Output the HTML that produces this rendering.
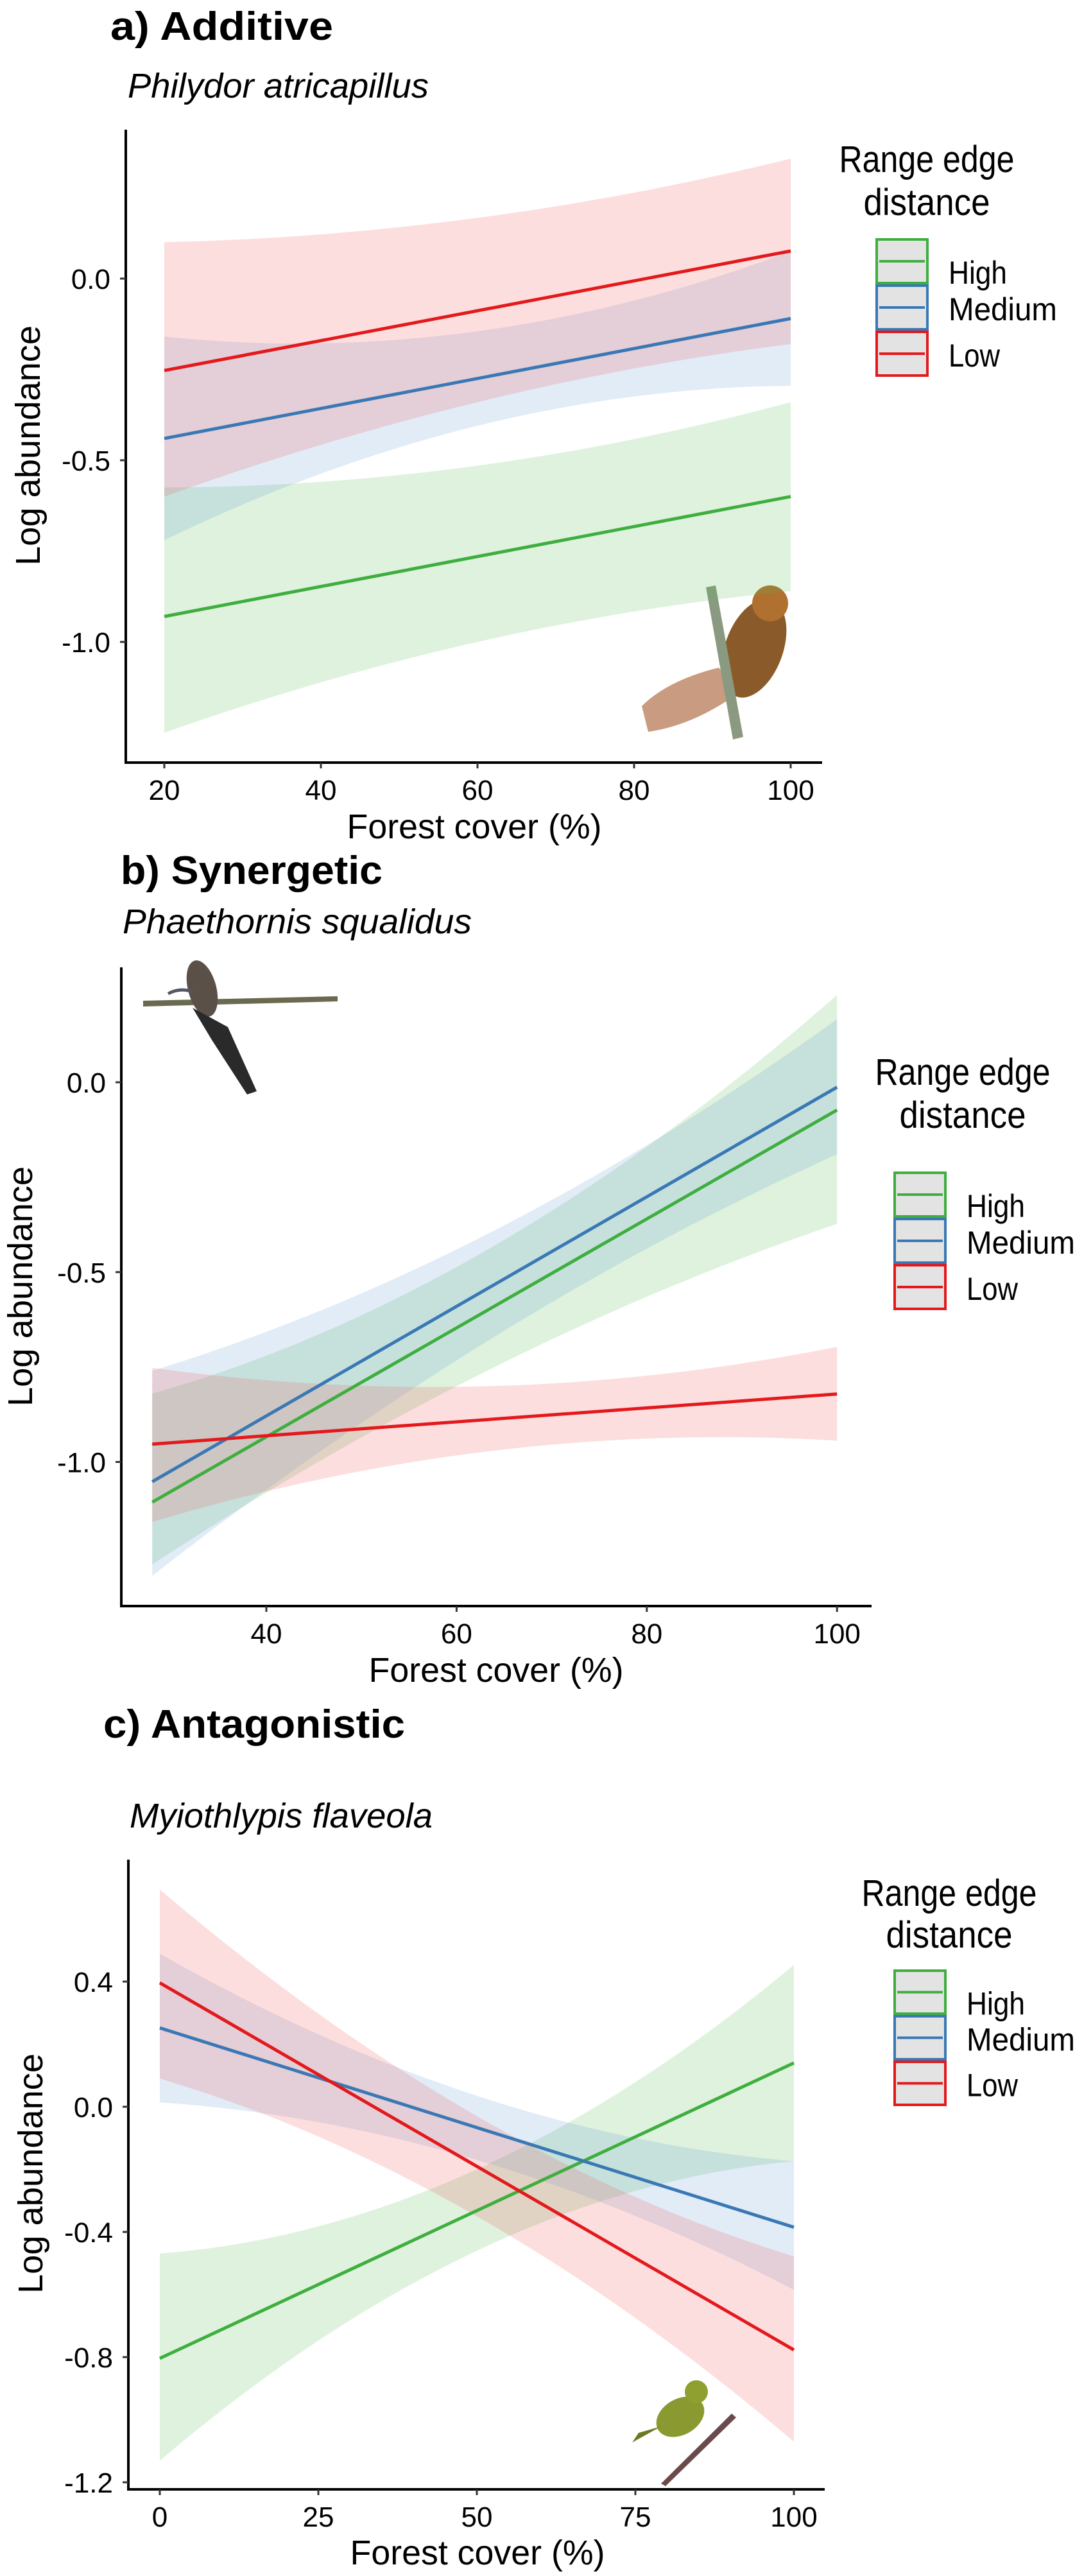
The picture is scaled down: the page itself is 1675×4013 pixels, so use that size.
<!DOCTYPE html>
<html><head><meta charset="utf-8"><style>
html,body{margin:0;padding:0;background:#fff;}
svg{display:block;}
text{font-family:"Liberation Sans",sans-serif;fill:#000;}
</style></head><body>
<svg id="fig" width="1675" height="4013" viewBox="0 0 1675 4013" xmlns="http://www.w3.org/2000/svg">
<g>
  <path d="M1000,1100 Q1040,1060 1120,1040 L1150,1080 Q1080,1130 1010,1140 Z" fill="#c08a6a" opacity="0.85"/>
  <ellipse cx="1175" cy="1010" rx="45" ry="80" fill="#8a5a2a" transform="rotate(20 1175 1010)"/>
  <circle cx="1200" cy="940" r="28" fill="#b07030"/>
  <path d="M1100,915 L1115,912 L1158,1148 L1142,1152 Z" fill="#8a9a80"/>
</g>
<g>
  <path d="M223,1559 L526,1552 L526,1560 L223,1568 Z" fill="#6a6a50"/>
  <ellipse cx="315" cy="1540" rx="22" ry="45" fill="#5a5048" transform="rotate(-15 315 1540)"/>
  <path d="M300,1570 L355,1600 L400,1700 L385,1705 L330,1620 Z" fill="#2a2a2a"/>
  <path d="M262,1548 Q280,1538 300,1545" stroke="#556" stroke-width="5" fill="none"/>
</g>
<g>
  <path d="M1030,3869 L1140,3760 L1147,3766 L1037,3873 Z" fill="#6a4a4a"/>
  <ellipse cx="1060" cy="3765" rx="40" ry="28" fill="#8a9a30" transform="rotate(-30 1060 3765)"/>
  <circle cx="1085" cy="3726" r="18" fill="#90a030"/>
  <path d="M1030,3780 L985,3805 L995,3790 Z" fill="#6a7a20"/>
</g>
</svg>
<script>
// ---------- Panel A data (Philydor atricapillus) ----------
const aX = [20, 60, 100];
const aHigh = [-0.93, -0.765, -0.60];
const aHighLo = [-1.25, -1.00, -0.86];
const aHighHi = [-0.575, -0.515, -0.34];
const aMed = [-0.44, -0.275, -0.11];
const aMedLo = [-0.72, -0.405, -0.295];
const aMedHi = [-0.16, -0.145, 0.075];
const aLow = [-0.253, -0.088, 0.076];
const aLowLo = [-0.60, -0.34, -0.18];
const aLowHi = [0.10, 0.167, 0.33];
const aXTicks = [20, 40, 60, 80, 100];
const aYTicks = [0.0, -0.5, -1.0];
const aYLabels = ["0.0", "-0.5", "-1.0"];
// ---------- Panel B data (Phaethornis squalidus) ----------
const bX = [28, 64, 100];
const bHigh = [-1.106, -0.59, -0.073];
const bHighLo = [-1.27, -0.75, -0.373];
const bHighHi = [-0.82, -0.43, 0.23];
const bMed = [-1.052, -0.53, -0.013];
const bMedLo = [-1.30, -0.67, -0.19];
const bMedHi = [-0.76, -0.39, 0.166];
const bLow = [-0.953, -0.887, -0.821];
const bLowLo = [-1.158, -0.97, -0.944];
const bLowHi = [-0.752, -0.80, -0.697];
const bXTicks = [40, 60, 80, 100];
const bYTicks = [0.0, -0.5, -1.0];
const bYLabels = ["0.0", "-0.5", "-1.0"];
// ---------- Panel C data (Myiothlypis flaveola) ----------
const cX = [0, 50, 100];
const cHigh = [-0.804, -0.33, 0.14];
const cHighLo = [-1.131, -0.46, -0.174];
const cHighHi = [-0.469, -0.20, 0.453];
const cMed = [0.252, -0.067, -0.385];
const cMedLo = [0.014, -0.17, -0.585];
const cMedHi = [0.489, 0.035, -0.174];
const cLow = [0.396, -0.19, -0.777];
const cLowLo = [0.09, -0.35, -1.07];
const cLowHi = [0.694, -0.03, -0.478];
const cXTicks = [0, 25, 50, 75, 100];
const cYTicks = [0.4, 0.0, -0.4, -0.8, -1.2];
const cYLabels = ["0.4", "0.0", "-0.4", "-0.8", "-1.2"];

const NS = "http://www.w3.org/2000/svg";
const svg = document.getElementById("fig");
const COL = {high:"#3fae3f", med:"#3a78b5", low:"#e3191c"};
const FILL = {high:"#5cc05c", med:"#6aa0d8", low:"#f05a5a"};

function mk(tag, attrs, parent){
  const e = document.createElementNS(NS, tag);
  for (const k in attrs) e.setAttribute(k, attrs[k]);
  (parent||svg).appendChild(e);
  return e;
}
function txt(str, attrs, parent){
  const e = mk("text", attrs, parent);
  e.textContent = str;
  return e;
}
function curve(xs, ys, sx, sy){
  const p0=[sx(xs[0]),sy(ys[0])], p1=[sx(xs[1]),sy(ys[1])], p2=[sx(xs[2]),sy(ys[2])];
  const c=[2*p1[0]-(p0[0]+p2[0])/2, 2*p1[1]-(p0[1]+p2[1])/2];
  return {p0,c,p2};
}
function band(xs, lo, hi, sx, sy, color, g, name){
  const L=curve(xs,lo,sx,sy), H=curve(xs,hi,sx,sy);
  const d=`M${L.p0[0]},${L.p0[1]} Q${L.c[0]},${L.c[1]} ${L.p2[0]},${L.p2[1]} L${H.p2[0]},${H.p2[1]} Q${H.c[0]},${H.c[1]} ${H.p0[0]},${H.p0[1]} Z`;
  const p = mk("path",{d:d, fill:color, "fill-opacity":0.2}, g);
  
  
}
function line(xs, ys, sx, sy, color, g, name){
  const l = mk("line",{x1:sx(xs[0]),y1:sy(ys[0]),x2:sx(xs[2]),y2:sy(ys[2]),stroke:color,"stroke-width":5}, g);
  
  
}

function panel(P){
  const g = mk("g",{});
  
  
  const sx = v => P.x0 + (v - P.xv0) * P.kx;
  const sy = v => P.y0 - v * P.ky;
  const t = txt(P.title,{x:P.titleX,y:P.titleY,"font-size":62,"font-weight":"bold",textLength:P.titleW,lengthAdjust:"spacingAndGlyphs"},g);
  
  
  const s = txt(P.sub,{x:P.subX,y:P.subY,"font-size":54,"font-style":"italic",textLength:P.subW,lengthAdjust:"spacingAndGlyphs"},g);
  
  
  band(P.xs,P.highLo,P.highHi,sx,sy,FILL.high,g,'band-high');
  band(P.xs,P.medLo,P.medHi,sx,sy,FILL.med,g,'band-medium');
  band(P.xs,P.lowLo,P.lowHi,sx,sy,FILL.low,g,'band-low');
  line(P.xs,P.high,sx,sy,COL.high,g,'line-high');
  line(P.xs,P.med,sx,sy,COL.med,g,'line-medium');
  line(P.xs,P.low,sx,sy,COL.low,g,'line-low');
  const ya = mk("line",{x1:P.axX,y1:P.axTop,x2:P.axX,y2:P.axBot+2,stroke:"#000","stroke-width":4},g);
  
  
  const xa = mk("line",{x1:P.axX-2,y1:P.axBot,x2:P.axRight,y2:P.axBot,stroke:"#000","stroke-width":4},g);
  
  
  P.xTicks.forEach(v=>{
    const tk = mk("line",{x1:sx(v),y1:P.axBot,x2:sx(v),y2:P.axBot+9,stroke:"#333","stroke-width":3},g);
    
    
    const tl = txt(String(v),{x:sx(v),y:P.axBot+58,"font-size":44,"text-anchor":"middle",fill:"#222"},g);
    
    
  });
  P.yTicks.forEach((v,i)=>{
    const tk = mk("line",{x1:P.axX-9,y1:sy(v),x2:P.axX,y2:sy(v),stroke:"#333","stroke-width":3},g);
    
    
    const tl = txt(P.yLabels[i],{x:P.axX-24,y:sy(v)+16,"font-size":44,"text-anchor":"end",fill:"#222"},g);
    
    
  });
  const xt = txt("Forest cover (%)",{x:P.xtX,y:P.xtY,"font-size":54,"text-anchor":"middle",textLength:397,lengthAdjust:"spacingAndGlyphs"},g);
  
  
  const yt = txt("Log abundance",{x:0,y:0,"font-size":54,"text-anchor":"middle",textLength:374,lengthAdjust:"spacingAndGlyphs",transform:`translate(${P.ytX},${P.ytY}) rotate(-90)`},g);
  
  
  const lg = mk("g",{},g);
  
  
  const l1 = txt("Range edge",{x:P.lgCX,y:P.lgY1,"font-size":58,"text-anchor":"middle",textLength:273,lengthAdjust:"spacingAndGlyphs"},lg);
  
  
  const l2 = txt("distance",{x:P.lgCX,y:P.lgY2,"font-size":58,"text-anchor":"middle",textLength:197,lengthAdjust:"spacingAndGlyphs"},lg);
  
  
  const keys = [["High","high",91],["Medium","med",169],["Low","low",80]];
  keys.forEach((k,i)=>{
    const top = P.boxY + i*P.boxH;
    const e = mk("g",{},lg);
    
    
    mk("rect",{x:P.boxX+2,y:top+2,width:79,height:P.boxH-4,fill:"#e3e3e3",stroke:COL[k[1]],"stroke-width":4},e);
    mk("line",{x1:P.boxX+6,y1:top+P.boxH/2,x2:P.boxX+77,y2:top+P.boxH/2,stroke:COL[k[1]],"stroke-width":4},e);
    txt(k[0],{x:P.boxX+114,y:top+P.boxH/2+(i===0?35:20),"font-size":50,textLength:k[2],lengthAdjust:"spacingAndGlyphs"},e);
  });
}

panel({name:"panel-a-additive",title:"a) Additive",titleX:172,titleY:62,titleW:347,
  sub:"Philydor atricapillus",subX:199,subY:152,subW:469,
  xs:aX,high:aHigh,highLo:aHighLo,highHi:aHighHi,med:aMed,medLo:aMedLo,medHi:aMedHi,low:aLow,lowLo:aLowLo,lowHi:aLowHi,
  x0:256,xv0:20,kx:12.2,y0:434,ky:566,axX:196,axTop:202,axBot:1188,axRight:1281,
  xTicks:aXTicks,yTicks:aYTicks,yLabels:aYLabels,xtX:739,xtY:1306,ytX:62,ytY:694,
  lgCX:1444,lgY1:268,lgY2:335,boxX:1364,boxY:371,boxH:72});
panel({name:"panel-b-synergetic",title:"b) Synergetic",titleX:188,titleY:1377,titleW:408,
  sub:"Phaethornis squalidus",subX:191,subY:1454,subW:544,
  xs:bX,high:bHigh,highLo:bHighLo,highHi:bHighHi,med:bMed,medLo:bMedLo,medHi:bMedHi,low:bLow,lowLo:bLowLo,lowHi:bLowHi,
  x0:415,xv0:40,kx:14.82,y0:1686,ky:591.5,axX:189,axTop:1507,axBot:2502,axRight:1358,
  xTicks:bXTicks,yTicks:bYTicks,yLabels:bYLabels,xtX:773,xtY:2620,ytX:50,ytY:2004,
  lgCX:1500,lgY1:1690,lgY2:1757,boxX:1392,boxY:1825,boxH:72});
panel({name:"panel-c-antagonistic",title:"c) Antagonistic",titleX:161,titleY:2707,titleW:470,
  sub:"Myiothlypis flaveola",subX:202,subY:2847,subW:472,
  xs:cX,high:cHigh,highLo:cHighLo,highHi:cHighHi,med:cMed,medLo:cMedLo,medHi:cMedHi,low:cLow,lowLo:cLowLo,lowHi:cLowHi,
  x0:249,xv0:0,kx:9.88,y0:3282,ky:487.5,axX:200,axTop:2897,axBot:3878,axRight:1285,
  xTicks:cXTicks,yTicks:cYTicks,yLabels:cYLabels,xtX:744,xtY:3995,ytX:66,ytY:3386,
  lgCX:1479,lgY1:2969,lgY2:3034,boxX:1392,boxY:3068,boxH:71});
</script>
</body></html>
